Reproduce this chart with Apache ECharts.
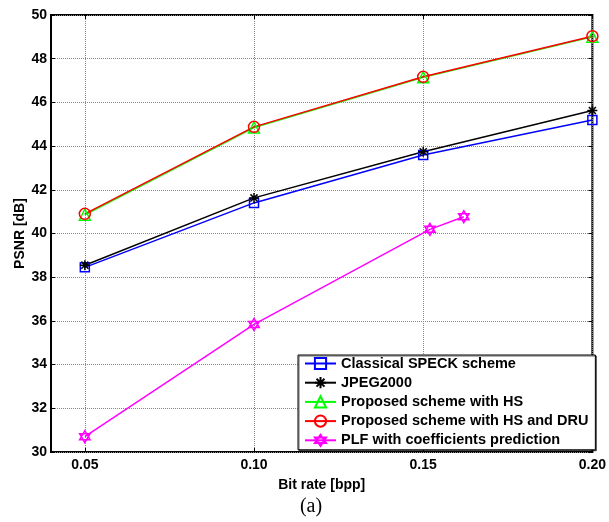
<!DOCTYPE html>
<html>
<head>
<meta charset="utf-8">
<title>PSNR vs bit rate</title>
<script src="https://cdn.jsdelivr.net/npm/echarts@6/dist/echarts.min.js"></script>
<style>
  html, body { margin: 0; padding: 0; background: #fff; }
  #chart { width: 609px; height: 522px; }
</style>
</head>
<body>
<div id="chart"></div>
<script>
// Bit rates (bpp) shared by the four main curves
var bitRates = [0.05, 0.10, 0.15, 0.20];
// PSNR values (dB)
var speckPsnr = [38.45, 41.40, 43.59, 45.19];
var jpeg2000Psnr = [38.55, 41.63, 43.74, 45.63];
var hsPsnr = [40.86, 44.85, 47.15, 49.00];
var hsDruPsnr = [40.90, 44.88, 47.17, 49.03];
// PLF curve has its own bit rates
var plfRates = [0.05, 0.10, 0.152, 0.162];
var plfPsnr = [30.70, 35.84, 40.19, 40.77];

var xTicks = [0.05, 0.10, 0.15, 0.20];
var seriesNames = [
  'Classical SPECK scheme',
  'JPEG2000',
  'Proposed scheme with HS',
  'Proposed scheme with HS and DRU',
  'PLF with coefficients prediction'
];

function pairs(xs, ys) {
  return xs.map(function (x, i) { return [x, ys[i]]; });
}

var ASTERISK = 'path://M0,-1L0,1M-1,0L1,0M-0.707,-0.707L0.707,0.707M-0.707,0.707L0.707,-0.707';
var HEXAGRAM = 'path://M0,-1L0.866,0.5L-0.866,0.5ZM0,1L0.866,-0.5L-0.866,-0.5Z';

function lineSeries(name, data, color, symbol, size) {
  return {
    name: name,
    type: 'line',
    data: data,
    clip: false,
    symbol: symbol,
    symbolSize: size,
    symbolKeepAspect: true,
    showAllSymbol: true,
    lineStyle: { color: color, width: 1.5 },
    itemStyle: { color: 'rgba(0,0,0,0)', borderColor: color, borderWidth: 1.5 },
    emphasis: { disabled: true },
    animation: false
  };
}

var font = 'Arial, "Liberation Sans", sans-serif';
var tickLabel = { fontFamily: font, fontWeight: 'bold', fontSize: 14, color: '#000' };
var grid = { type: 'dotted', color: '#888', width: 1 };

var chart = echarts.init(document.getElementById('chart'), null, { renderer: 'canvas' });
chart.setOption({
  backgroundColor: '#fff',
  animation: false,
  grid: { left: 51, right: 13, top: 15, bottom: 70, show: true, borderColor: '#000', borderWidth: 2, backgroundColor: 'transparent' },
  xAxis: [{
    type: 'value', min: 0.04, max: 0.2,
    name: 'Bit rate [bpp]', nameLocation: 'middle', nameGap: 26,
    nameTextStyle: { fontFamily: font, fontWeight: 'bold', fontSize: 14, color: '#000' },
    axisLine: { show: false },
    axisTick: { show: true, inside: true, length: 4, customValues: xTicks, lineStyle: { color: '#000' } },
    axisLabel: Object.assign({ margin: 6, customValues: xTicks, formatter: function (v) { return v.toFixed(2); } }, tickLabel),
    splitLine: { show: true, lineStyle: grid }
  }, {
    type: 'value', position: 'top', min: 0.04, max: 0.2,
    axisLine: { show: false },
    axisTick: { show: true, inside: true, length: 4, customValues: xTicks, lineStyle: { color: '#000' } },
    axisLabel: { show: false, customValues: xTicks },
    splitLine: { show: false }
  }],
  yAxis: [{
    type: 'value', min: 30, max: 50, interval: 2,
    name: 'PSNR [dB]', nameLocation: 'middle', nameGap: 24, nameRotate: 90,
    nameMoveOverlap: false,
    nameTextStyle: { fontFamily: font, fontWeight: 'bold', fontSize: 14, color: '#000' },
    axisLine: { show: false },
    axisTick: { show: true, inside: true, length: 4, lineStyle: { color: '#000' } },
    axisLabel: Object.assign({ margin: 4 }, tickLabel),
    splitLine: { show: true, lineStyle: grid }
  }, {
    type: 'value', position: 'right', min: 30, max: 50, interval: 2,
    axisLine: { show: false },
    axisTick: { show: true, inside: true, length: 4, lineStyle: { color: '#000' } },
    axisLabel: { show: false },
    splitLine: { show: false }
  }],
  legend: {
    orient: 'vertical',
    left: 298, top: 355,
    padding: [1, 7, 2, 6],
    itemWidth: 31, itemHeight: 14, itemGap: 4.2,
    backgroundColor: '#fff',
    borderColor: '#000', borderWidth: 1,
    shadowColor: 'rgba(0,0,0,0.6)', shadowOffsetX: 1, shadowOffsetY: 1,
    textStyle: { fontFamily: font, fontWeight: 'bold', fontSize: 14.5, lineHeight: 15, color: '#000' },
    selectedMode: false,
    data: seriesNames
  },
  graphic: [{
    type: 'text', x: 311, y: 497,
    style: { text: '(a)', font: '20px "Liberation Serif", "Times New Roman", serif', fill: '#000', textAlign: 'center', textVerticalAlign: 'top' }
  }],
  series: [
    lineSeries(seriesNames[0], pairs(bitRates, speckPsnr), '#0000ff', 'rect', 9),
    lineSeries(seriesNames[1], pairs(bitRates, jpeg2000Psnr), '#000000', ASTERISK, 10),
    lineSeries(seriesNames[2], pairs(bitRates, hsPsnr), '#00ff00', 'triangle', 11),
    lineSeries(seriesNames[3], pairs(bitRates, hsDruPsnr), '#ff0000', 'circle', 11),
    lineSeries(seriesNames[4], pairs(plfRates, plfPsnr), '#ff00ff', HEXAGRAM, 12)
  ]
});
</script>
</body>
</html>
